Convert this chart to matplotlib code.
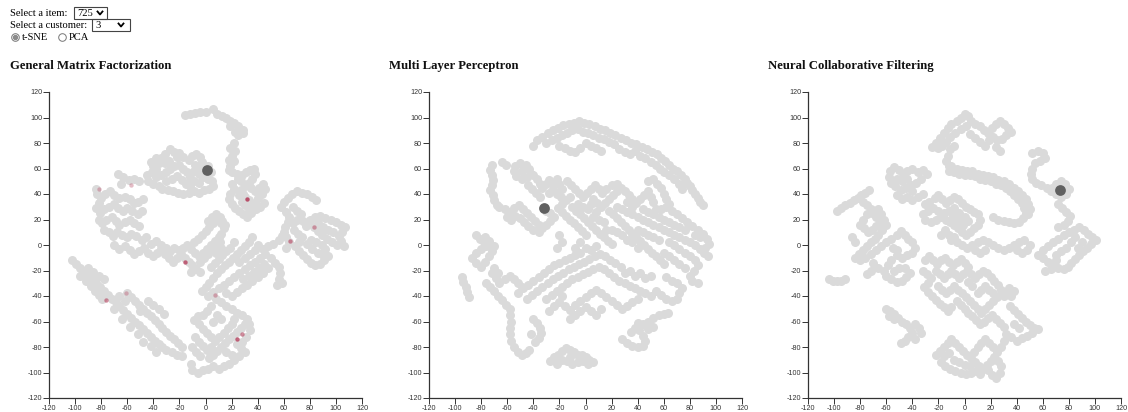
import matplotlib
matplotlib.use("Agg")
import matplotlib.pyplot as plt
from matplotlib.patches import Rectangle, Circle

plt.rcParams['axes.unicode_minus'] = False

# ---------------- data ----------------
panel_titles = ["General Matrix Factorization", "Multi Layer Perceptron", "Neural Collaborative Filtering"]
tick_values = [-120, -100, -80, -60, -40, -20, 0, 20, 40, 60, 80, 100, 120]
selected_item = "725"
selected_customer = "3"

gmf_points = [
    # top arc
    (-16,102),(-12,103),(-8,103.5),(-4,104),(0,104.5),
    (6,107),(9,103),(12.5,101),(16,99.5),(19,97),(21.5,95.5),(25,93),(28.7,90.5),(29,88),(24.6,86.5),(23,89),(19,93),
    (21.5,80),(19,76),(23,73.5),(20,70),(17.7,67),(21.5,65.6),(19,62),(17.7,59),(20,57),
    # upper middle cluster
    (-45,55),(-41,57),(-38,60),(-36,64),(-34,68),(-31,71),(-27,75),(-24,73),(-22,69),
    (-44,50),(-40,48),(-36,46),(-33,44),(-29,43),(-25,42),(-21,41),(-17,40),(-13,41),(-9,42),(-5,41),(-1,43),(3,44),(6,46),
    (-38,53),(-34,55),(-30,57),(-27,60),(-24,62),(-20,63),(-17,60),(-14,57),(-12,53),(-9,50),(-5,49),
    (-20,72),(-17,69),(-13,67),(-10,70),(-7,71),(-4,69),(-3,65),(-6,61),(-9,58),
    (-30,50),(-26,52),(-22,54),(-18,51),(-15,48),(-12,46),
    (-5,56),(-2,53),(2,52),(5,50),(-8,63),(-40,62),(-42,65),(-38,68),(-31,64),(-28,66),(2,62),(4,57),
    # left top cluster and ring
    (-67,56),(-63,53),(-59,51),(-55,52),(-51,50),(-65,48),
    (-84,44),(-83,40),(-80,37),(-77,40),(-73,42),(-70,39),(-66,37),(-62,38),(-58,36),(-55,33),(-52,34),(-48,36),
    (-82,33),(-84,29),(-81,25),(-78,28),(-74,30),(-70,32),(-67,29),(-63,27),(-60,29),(-56,27),(-52,24),(-49,27),
    (-82,20),(-79,17),(-76,20),(-72,22),(-69,19),(-66,16),(-62,18),(-58,20),(-55,17),(-51,15),
    (-78,12),(-74,10),(-71,7),(-68,10),(-64,8),(-60,6),(-57,9),(-53,7),(-49,4),(-46,6),
    (-70,0),(-66,-3),(-62,-1),(-58,-4),(-55,-7),(-51,-5),(-47,-2),(-44,-6),(-40,-9),(-37,-6),(-34,-3),(-31,-7),(-28,-10),
    (-25,-13),(-22,-10),(-19,-7),(-16,-10),(-13,-13),(-10,-16),(-7,-19),(-4,-21),(-11,-21),
    (-42,1),(-38,3),(-34,0),(-30,-2),(-27,-5),(-24,-2),(-20,-4),
    (-17,-2),(-14,0),(-11,-3),(-8,-6),(-5,-9),(-2,-6),(1,-3),(4,0),(7,3),(10,6),(12,9),(14,13),(12,17),(9,20),(6,17),(3,14),(0,11),(-3,8),(-6,5),(-9,2),
    (-4,-13),(-1,-10),(2,-7),(5,-4),(8,0),(11,2),
    (5,22),(8,24),(11,22),(13,19),(15,16),(2,19),
    # right middle cluster
    (20,48),(22,44),(19,40),(18,36),(20,32),(23,29),(26,27),(29,24),(32,22),(35,25),(33,28),(30,31),
    (25,52),(28,55),(31,57),(34,59),(37,60),(38,56),(36,52),(33,49),(30,46),(27,43),(26,39),(29,40),
    (35,45),(38,42),(41,45),(44,48),(46,44),(43,40),(40,37),(38,33),(36,30),(39,28),(42,30),(45,33),
    (24,56),(27,50),(30,38),(33,35),(28,34),
    # far right cluster
    (58,30),(60,34),(63,37),(66,40),(70,42),(74,41),(78,40),(82,38),(85,35),
    (62,26),(64,22),(63,18),(61,14),(60,10),(62,6),(64,2),(62,-2),
    (67,30),(70,27),(73,24),(70,20),(67,17),(68,12),(71,9),(74,6),(72,2),(69,-1),(72,-5),(75,-8),(78,-11),(81,-14),(84,-16),(88,-15),(91,-12),(94,-9),
    (80,20),(84,22),(88,23),(92,21),(96,20),(100,18),(104,16),(107,14),(105,10),(102,7),(104,3),(106,-1),(101,0),(97,2),(93,5),(89,8),(86,11),(83,14),
    (86,17),(90,14),(94,12),(98,10),(92,-3),(89,0),(85,2),(81,4),(78,1),(82,-3),(86,-6),(90,-8),(77,15),(75,19),
    # lower middle cluster
    (36,6),(33,2),(30,-1),(27,-4),(24,-7),(21,-10),(18,-13),(15,-16),(12,-19),(9,-22),(6,-26),(3,-30),(0,-33),(-3,-36),
    (22,2),(19,-2),(16,-5),(13,-8),(10,-11),(7,-14),(4,-17),(8,-6),(12,-2),
    (40,0),(44,-3),(48,-1),(52,1),(56,4),(59,7),(46,-7),(42,-10),(38,-13),(34,-16),(30,-19),(26,-22),(22,-25),(18,-28),(14,-31),(10,-34),(6,-37),(2,-40),
    (50,-10),(53,-14),(56,-17),(57,-22),(56,-27),(59,-30),(55,-31),(48,-18),(44,-22),(40,-25),(36,-28),(32,-31),(28,-34),(24,-37),(20,-40),(16,-38),
    (26,-13),(30,-10),(34,-7),(38,-4),(29,-27),(33,-24),(37,-21),(41,-18),(45,-15),
    # bottom middle cluster
    (8,-42),(12,-45),(16,-48),(20,-50),(24,-53),(28,-55),(32,-58),(30,-62),(27,-65),(24,-68),(21,-71),(18,-74),(15,-77),(12,-80),(9,-83),(6,-86),(3,-89),
    (4,-48),(1,-52),(-2,-55),(-6,-56),(-9,-59),(-5,-62),(-2,-66),(1,-69),(4,-72),(7,-75),(10,-72),(14,-69),(17,-65),(20,-62),(22,-58),
    (-8,-72),(-5,-76),(-2,-79),(1,-82),(4,-80),(-10,-80),(-7,-84),(-4,-87),
    (24,-78),(27,-81),(30,-84),(26,-87),(22,-90),(18,-93),(14,-95),(10,-97),(6,-95),(2,-97),(-2,-98),(-6,-100),(-10,-98),(-11,-93),
    (12,-58),(9,-55),(6,-60),(16,-84),(20,-86),(28,-76),(31,-72),(34,-67),(33,-62),
    # lower left band
    (-102,-12),(-99,-15),(-96,-18),(-93,-21),(-90,-24),(-87,-27),(-84,-30),(-81,-33),(-78,-36),(-75,-39),
    (-96,-24),(-92,-28),(-88,-32),(-85,-36),(-82,-39),(-79,-42),
    (-90,-18),(-86,-21),(-82,-24),(-78,-27),
    (-72,-42),(-69,-45),(-66,-48),(-63,-51),(-60,-54),(-57,-57),(-54,-60),(-51,-63),(-48,-66),(-45,-69),(-42,-72),(-39,-75),(-36,-78),(-33,-80),(-30,-82),(-26,-84),(-22,-86),(-18,-87),
    (-60,-38),(-57,-41),(-54,-44),(-51,-47),(-48,-50),(-45,-53),(-42,-56),(-39,-59),(-36,-62),(-33,-65),(-30,-68),(-27,-71),(-24,-74),(-21,-77),(-18,-80),
    (-62,-44),(-66,-40),(-70,-50),(-64,-58),(-58,-64),(-52,-70),(-48,-76),(-42,-79),(-38,-84),(-50,-52),(-44,-44),(-40,-47),(-36,-50),(-32,-54),
]
gmf_rated = [(-82,44),(-57,47),(-16,-13),(32,36),(83,14),(65,3),(7,-39),(28,-70),(24,-74),(-76,-43),(-61,-38)]
gmf_rated_alpha = [0.35,0.35,0.8,0.9,0.5,0.6,0.4,0.6,0.8,0.6,0.35]
gmf_item = (1, 58.5)

mlp_points = [
    # top band
    (-40,78),(-37,82),(-33,85),(-29,88),(-25,90),(-21,92),(-17,94),(-13,95),(-9,96),(-5,97),(-1,96),(3,95),(7,93),(11,91),(15,90),(19,88),(23,86),(27,84),
    (31,82),(35,80),(39,79),(43,77),(47,75),(51,73),(55,71),(58,68),(61,66),(64,63),(67,60),(70,58),(73,55),(76,52),(78,49),(80,46),(82,43),(84,40),(86,37),(88,34),(90,31),
    (-30,80),(-26,82),(-22,84),(-18,86),(-14,88),(-10,90),(-6,91),(-2,89),(2,88),(6,86),(10,84),(14,83),(18,81),(22,79),
    (-20,78),(-16,76),(-12,74),(-8,73),(-4,76),(0,80),(4,78),(8,76),(12,74),(26,75),(30,73),(34,71),(38,74),(42,70),(46,68),(50,65),(54,63),(57,60),(60,57),(64,55),(68,52),(72,48),(74,44),
    # upper left
    (-72,63),(-73,59),(-72,55),(-71,51),(-72,47),(-73,43),(-71,39),(-70,35),(-68,31),(-64,65),(-61,63),
    (-54,62),(-50,64),(-46,63),(-43,60),(-42,56),(-45,53),(-49,52),(-53,54),(-55,58),(-49,58),
    (-40,55),(-37,52),(-35,48),(-33,45),(-30,48),(-28,51),(-25,49),(-22,52),(-20,48),(-18,44),(-44,47),(-41,44),(-38,41),(-35,38),(-28,41),(-25,44),(-22,40),(-19,38),
    (-66,30),(-62,28),(-58,26),(-55,29),(-51,31),(-48,28),(-45,25),(-42,22),(-39,19),(-36,16),(-33,13),(-36,10),(-40,12),(-44,15),(-47,18),(-50,21),(-54,23),(-57,20),(-60,22),
    (-30,16),(-27,19),(-24,22),(-27,25),(-30,27),
    # middle mesh
    (-14,50),(-11,47),(-8,44),(-5,41),(-2,38),(1,41),(4,44),(7,47),(10,44),(13,41),(-12,38),(-15,35),(-18,32),(-21,29),(-18,26),(-15,23),(-12,20),(-9,17),(-6,14),(-3,11),(0,8),
    (-10,30),(-7,27),(-4,24),(-1,21),(2,18),(5,15),(8,12),(11,9),(14,6),(17,3),(20,1),
    (6,36),(9,33),(12,30),(15,33),(18,36),(21,39),(24,42),(27,45),(24,48),(20,47),(16,44),(30,42),(33,39),(36,36),(39,33),(42,36),(45,39),(48,42),(50,38),(52,34),
    (18,27),(21,24),(24,21),(27,18),(30,15),(33,12),(36,9),(39,6),(42,3),(45,0),(48,-3),(51,-6),(54,-9),(57,-12),(60,-15),
    (24,30),(28,28),(32,26),(36,24),(40,22),(44,20),(48,18),(52,16),(56,14),(60,12),(64,10),(68,8),(72,6),(76,4),(80,2),(84,0),(88,-3),(91,-6),(94,-9),
    (14,18),(10,20),(6,22),(28,8),(32,4),(36,2),(40,-2),
    (58,28),(62,30),(66,27),(70,24),(74,21),(78,18),(82,15),(86,12),(90,9),(93,5),(95,1),(92,-2),(88,6),(84,8),
    (60,40),(62,36),(64,32),(56,22),(60,20),(64,18),(68,16),(72,14),(76,12),(64,2),(68,0),(72,-3),(76,-6),(80,-9),(84,-12),(86,-16),(83,-20),(80,-24),(82,-28),(86,-30),
    (76,-18),(72,-15),(68,-12),(64,-9),(60,-6),(55,48),(58,45),(52,52),(48,50),
    (-6,32),(-2,30),(2,28),(4,32),(8,26),(44,28),(48,26),(52,24),(54,28),(40,12),(44,10),(48,8),(52,6),(56,4),(20,12),(24,10),(16,12),(32,34),(36,30),
    # lower left
    (-84,8),(-81,5),(-78,2),(-76,-1),(-80,-3),(-84,-6),(-87,-10),(-84,-14),(-80,-17),(-77,-13),(-74,-9),(-72,-5),(-70,-1),(-74,3),(-77,6),(-70,-18),(-67,-22),
    (-95,-25),(-94,-29),(-92,-33),(-91,-37),(-89,-41),
    (-76,-30),(-73,-33),(-70,-36),(-67,-40),(-64,-43),(-61,-47),(-58,-50),(-62,-27),(-58,-24),(-55,-27),(-52,-30),(-49,-33),(-66,-30),(-69,-26),(-72,-22),
    (-58,-55),(-57,-60),(-58,-65),(-58,-70),(-57,-75),(-55,-80),(-52,-84),(-49,-86),(-46,-85),(-43,-82),
    (-40,-58),(-37,-61),(-35,-65),(-34,-69),(-36,-73),(-39,-76),(-42,-70),
    # lower middle band
    (-52,-38),(-48,-34),(-44,-31),(-40,-28),(-36,-25),(-32,-22),(-28,-19),(-24,-16),(-20,-14),(-16,-12),(-12,-10),(-8,-8),(-4,-6),
    (-45,-42),(-41,-39),(-37,-36),(-33,-33),(-29,-30),(-25,-27),(-21,-24),(-17,-22),(-13,-19),(-9,-17),(-5,-15),(-1,-13),(3,-11),(7,-9),(11,-7),(15,-9),(19,-12),(23,-14),(27,-17),
    (-30,-42),(-26,-39),(-22,-36),(-18,-33),(-14,-30),(-10,-27),(-6,-25),(-2,-23),(2,-21),(6,-19),(10,-17),(14,-19),(18,-22),(22,-25),(26,-28),(30,-30),(34,-32),(38,-34),(42,-36),(46,-38),(50,-40),
    (-20,-45),(-16,-48),(-12,-51),(-8,-47),(-4,-44),(0,-41),(4,-38),(8,-35),(12,-38),(16,-41),(20,-44),(24,-47),(28,-50),(32,-48),(36,-45),(40,-42),
    (-12,-58),(-8,-55),(-4,-52),(0,-49),(4,-52),(8,-55),(12,-50),(-18,-40),(-24,-48),(-28,-52),
    (54,-36),(58,-39),(62,-42),(66,-44),(70,-42),(72,-38),(74,-34),(70,-30),(66,-28),(62,-25),
    (-8,-2),(-4,2),(0,-2),(4,-4),(8,-1),(30,-22),(34,-20),(38,-24),(42,-22),(46,-26),(50,-24),(-22,-2),(-18,2),(-20,8),
    # bottom blobs
    (-27,-91),(-24,-88),(-21,-86),(-18,-83),(-15,-81),(-12,-82),(-9,-84),(-6,-86),(-3,-86),(0,-88),(3,-90),(6,-92),(2,-93),(-2,-91),(-6,-92),(-10,-93),(-14,-91),(-18,-90),(-22,-93),(-12,-88),
    (28,-74),(32,-77),(36,-79),(40,-80),(44,-79),(46,-75),(44,-71),(41,-67),(38,-65),(35,-68),(44,-62),(48,-60),(52,-57),(56,-55),(60,-54),(63,-53),(48,-66),(52,-64),(40,-61),
]
mlp_item = (-32, 29)

ncf_points = [
    # top cluster
    (-22,80),(-19,84),(-16,88),(-13,92),(-10,95),(-6,97),(-3,100),(0,103),(3,101),(5,97),(1,93),(-3,91),(-7,88),(-11,85),(-14,81),(-17,78),(-20,76),
    (8,95),(12,93),(15,90),(18,88),(21,92),(24,95),(27,97),(30,95),(33,92),(36,89),(32,86),(29,83),(25,82),(22,85),(19,82),(16,78),(12,81),(8,84),(4,87),
    (-8,78),(-11,75),(-13,70),(-14,66),(-12,62),(24,77),(27,74),(-25,77),
    # S body
    (-12,58),(-8,57),(-4,56),(0,55),(4,55),(8,54),(12,52),(16,51),(20,50),(24,48),(28,47),(32,45),(35,42),(38,39),(41,36),(44,33),(46,29),(47,25),(45,21),(42,18),(38,17),(34,18),(30,19),(26,20),(22,22),
    (-10,62),(-6,60),(-2,59),(2,58),(6,58),(10,56),(14,55),(18,54),(22,53),(26,51),(30,50),(34,48),(38,45),(41,42),(44,39),(47,36),(49,32),(50,28),(49,24),
    # right cluster
    (52,72),(56,74),(60,72),(62,68),(58,66),(54,64),(52,60),(51,56),(52,52),(55,49),(59,47),(63,45),(67,45),(70,48),(74,50),(77,48),(80,44),(78,40),(74,38),(70,40),(66,42),
    (72,32),(75,29),(78,26),(81,23),(79,19),(76,16),(72,14),
    (92,12),(95,9),(98,6),(101,4),(97,1),(94,-2),(91,-5),(88,-8),(85,-11),(82,-14),(79,-17),(76,-19),(72,-18),(68,-16),(64,-13),(60,-10),(56,-8),(60,-4),(64,-1),(68,2),(72,5),(76,8),(80,10),(84,12),(88,14),
    (85,6),(82,2),(78,-2),(74,-5),(70,-8),(87,-2),(90,2),(70,-12),(66,-19),(62,-20),
    # middle horizontal band
    (-10,4),(-6,2),(-2,0),(2,-2),(6,0),(10,2),(14,4),(18,2),(22,0),(26,-2),(30,-4),(34,-2),(38,0),(42,2),(46,4),(50,0),(48,-4),(44,-6),(40,-4),(16,-4),(12,-6),(8,-4),
    # center cluster
    (-30,32),(-27,34),(-23,37),(-20,39),(-17,36),(-14,33),(-11,35),(-8,38),(-5,36),(-2,33),(1,30),(4,28),(7,26),(10,24),(12,20),(10,16),(7,13),(4,10),(1,8),(-2,10),(-5,13),(-8,16),(-11,18),(-14,20),
    (-18,22),(-22,20),(-26,18),(-30,20),(-32,24),(-28,27),(-24,29),(-20,27),(-16,25),(-12,27),(-8,29),(-4,25),(0,22),(3,19),(-1,16),(-5,20),(-9,23),(-15,12),(-18,8),(-12,8),(-8,6),
    # upper left cluster
    (-57,58),(-54,61),(-50,59),(-47,56),(-44,58),(-40,60),(-36,57),(-32,59),(-29,56),(-33,52),(-37,49),(-41,47),(-45,45),(-49,43),(-53,46),(-56,49),(-58,53),(-52,52),(-48,50),(-44,52),
    (-40,42),(-44,38),(-40,35),(-36,38),(-32,40),(-48,36),(-52,39),
    # left cluster
    (-98,27),(-95,29),(-92,31),(-88,33),(-85,35),(-82,37),(-79,39),(-76,41),(-73,43),
    (-78,34),(-75,31),(-72,28),(-75,24),(-78,20),(-80,16),(-77,13),(-74,10),(-71,12),(-68,15),(-65,18),(-68,22),(-71,25),(-66,28),(-64,24),(-62,20),(-60,16),(-63,12),(-66,8),(-69,5),
    (-72,2),(-75,-1),(-78,-4),(-81,-7),(-84,-10),(-80,-12),(-76,-10),(-72,-7),(-68,-4),(-64,-1),(-60,2),(-56,5),(-52,8),(-49,11),(-46,8),(-43,5),(-40,2),(-38,-2),(-40,-6),(-44,-8),
    (-48,-10),(-52,-8),(-56,-12),(-59,-16),(-62,-20),(-60,-24),(-56,-27),(-52,-29),(-48,-28),(-45,-25),(-42,-22),(-46,-18),(-50,-18),(-54,-20),(-84,2),(-86,6),(-70,-14),(-66,-18),(-72,-20),(-75,-23),(-55,-2),(-52,-4),
    (-104,-27),(-101,-28),(-98,-28),(-95,-28),(-92,-27),
    # lower middle cluster
    (-30,-12),(-27,-9),(-24,-12),(-21,-15),(-18,-12),(-15,-10),(-12,-13),(-9,-16),(-6,-13),(-3,-11),(0,-14),(3,-17),
    (-32,-20),(-29,-23),(-26,-26),(-28,-30),(-31,-33),(-28,-37),(-25,-40),(-22,-43),(-19,-46),(-16,-49),(-13,-52),(-10,-49),
    (-22,-20),(-19,-23),(-16,-26),(-13,-23),(-10,-20),(-7,-23),(-4,-26),(-1,-23),(2,-20),(5,-23),(8,-26),(11,-23),(14,-20),(17,-22),(20,-25),(23,-28),(26,-31),(28,-35),
    (-20,-32),(-17,-35),(-14,-38),(-11,-35),(-8,-32),(-5,-35),(-2,-38),(1,-41),(4,-44),(7,-47),(10,-50),(13,-53),(16,-50),(19,-47),(22,-44),(25,-41),
    (-6,-44),(-3,-47),(0,-50),(3,-53),(6,-56),(9,-59),(12,-62),(15,-60),(18,-57),(21,-55),(24,-58),(27,-61),(30,-64),
    (10,-38),(13,-35),(16,-32),(19,-35),(22,-38),(6,-32),(3,-29),(30,-40),(33,-38),(36,-40),(38,-36),(34,-34),
    # right lower
    (35,-48),(38,-51),(41,-54),(44,-57),(47,-60),(50,-63),(53,-65),(56,-66),(52,-69),(48,-71),(44,-73),(40,-75),(36,-72),(32,-70),(38,-62),(42,-65),(30,-75),(28,-80),
    # bottom clusters
    (-60,-50),(-57,-52),(-54,-54),(-51,-57),(-48,-60),(-45,-62),(-42,-65),(-40,-69),(-43,-72),(-46,-75),(-49,-77),(-38,-62),(-35,-65),(-33,-69),(-38,-74),(-54,-58),(-58,-56),
    (-22,-86),(-19,-83),(-16,-80),(-13,-77),(-10,-74),(-7,-77),(-4,-80),(-1,-83),(2,-86),(5,-89),(8,-92),(11,-95),(14,-97),(17,-94),(20,-91),(23,-88),(26,-91),(28,-95),(27,-100),(24,-104),(21,-102),(18,-98),
    (-18,-92),(-15,-95),(-11,-97),(-7,-99),(-3,-100),(1,-101),(5,-100),(9,-99),(12,-101),(-8,-90),(-4,-92),(0,-94),(4,-95),(7,-84),(10,-80),(13,-77),(16,-74),(19,-77),(22,-80),(25,-84),(-16,-87),(-12,-85),
]
ncf_item = (73, 43.5)

# ---------------- styling ----------------
GRAY = "#dadada"
DARK = "#606060"
RED = "#b5415e"
axes_lefts = [49, 429, 808]
axes_width = 313
axes_top, axes_bottom = 92, 398
title_x = [10, 389, 768]
W, H = 1128, 412

fig = plt.figure(figsize=(W / 100, H / 100), dpi=100)

panels = [(gmf_points, gmf_item, gmf_rated), (mlp_points, mlp_item, []), (ncf_points, ncf_item, [])]
for i, (pts, item, rated) in enumerate(panels):
    ax = fig.add_axes([axes_lefts[i] / W, 1 - axes_bottom / H, axes_width / W, (axes_bottom - axes_top) / H])
    xs = [p[0] for p in pts]
    ys = [p[1] for p in pts]
    ax.scatter(xs, ys, s=42, color=GRAY, linewidths=0, zorder=2)
    if rated:
        for (rx, ry), a in zip(rated, gmf_rated_alpha):
            ax.scatter([rx], [ry], s=10, color=RED, alpha=a, linewidths=0, zorder=3)
    ax.scatter([item[0]], [item[1]], s=60, color=DARK, linewidths=0, zorder=4)
    ax.set_xlim(-120, 120)
    ax.set_ylim(-120, 120)
    ax.set_xticks(tick_values)
    ax.set_yticks(tick_values)
    ax.set_xticklabels([str(t) for t in tick_values])
    ax.set_yticklabels([str(t) for t in tick_values])
    for s in ["top", "right"]:
        ax.spines[s].set_visible(False)
    for s in ["left", "bottom"]:
        ax.spines[s].set_color("#333333")
        ax.spines[s].set_linewidth(0.9)
    ax.tick_params(axis="both", length=4, width=0.7, color="#333333", labelsize=5.2,
                   labelcolor="#333333", pad=1)
    for lab in ax.get_xticklabels() + ax.get_yticklabels():
        lab.set_fontfamily("Liberation Sans")
    ax.set_facecolor("none")
    fig.text(title_x[i] / W, 1 - 66 / H, panel_titles[i], fontsize=9.2, fontweight="bold",
             family="Liberation Serif", va="center", ha="left", color="#111111")

# top form controls drawn on a pixel-space overlay
ov = fig.add_axes([0, 0, 1, 1], zorder=-1)
ov.set_xlim(0, W)
ov.set_ylim(H, 0)
ov.axis("off")
serif = "Liberation Serif"
ov.text(10, 13, "Select a item:", fontsize=7.6, family=serif, va="center", ha="left")
ov.text(10, 25, "Select a customer:", fontsize=7.6, family=serif, va="center", ha="left")
ov.add_patch(Rectangle((74, 7), 33, 12, fill=False, edgecolor="#444444", linewidth=0.8))
ov.text(77, 13, selected_item, fontsize=7.6, family=serif, va="center", ha="left")
ov.plot([97.5, 100, 102.5], [11.5, 14.5, 11.5], color="black", linewidth=1.3)
ov.add_patch(Rectangle((92, 19), 38, 12, fill=False, edgecolor="#444444", linewidth=0.8))
ov.text(95, 25, selected_customer, fontsize=7.6, family=serif, va="center", ha="left")
ov.plot([118.5, 121, 123.5], [23.5, 26.5, 23.5], color="black", linewidth=1.3)
# radio buttons
ov.add_patch(Circle((15.5, 37.5), 3.8, fill=False, edgecolor="#777777", linewidth=0.7))
ov.add_patch(Circle((15.5, 37.5), 2.0, color="#8a8a8a"))
ov.text(22, 37.5, "t-SNE", fontsize=7.6, family=serif, va="center", ha="left")
ov.add_patch(Circle((62.5, 37.5), 3.8, fill=False, edgecolor="#777777", linewidth=0.7))
ov.text(69, 37.5, "PCA", fontsize=7.6, family=serif, va="center", ha="left")

fig.savefig("out.png", dpi=100)
